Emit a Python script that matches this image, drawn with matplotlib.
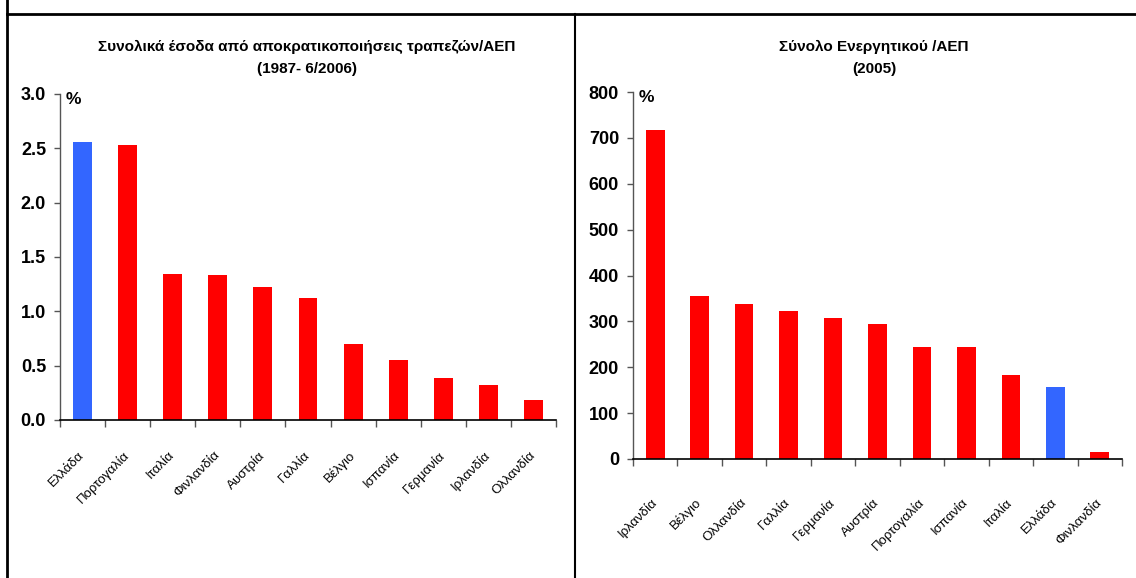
import matplotlib
matplotlib.use("Agg")
import matplotlib.pyplot as plt
from matplotlib.lines import Line2D
import numpy as np

plt.rcParams['font.family'] = ['Liberation Sans', 'DejaVu Sans']

# left chart: bank privatisation proceeds / GDP (1987 - 6/2006)
left_countries = ["Ελλάδα", "Πορτογαλία", "Ιταλία", "Φινλανδία", "Αυστρία", "Γαλλία",
                  "Βέλγιο", "Ισπανία", "Γερμανία", "Ιρλανδία", "Ολλανδία"]
left_values = [2.56, 2.53, 1.34, 1.33, 1.22, 1.12, 0.70, 0.55, 0.39, 0.32, 0.18]

# right chart: total assets / GDP (2005)
right_countries = ["Ιρλανδία", "Βέλγιο", "Ολλανδία", "Γαλλία", "Γερμανία", "Αυστρία",
                   "Πορτογαλία", "Ισπανία", "Ιταλία", "Ελλάδα", "Φινλανδία"]
right_values = [718, 355, 337, 322, 307, 294, 245, 244, 184, 158, 15]

RED = "#FF0000"
BLUE = "#3366FF"


def draw_bars(ax, names, values, ymax, ystep, fmt, label_pad):
    x = np.arange(len(names))
    colors = [BLUE if n == "Ελλάδα" else RED for n in names]
    ax.bar(x, values, width=0.42, color=colors, edgecolor="none")
    ax.set_xlim(-0.5, len(names) - 0.5)
    ax.set_ylim(0, ymax)

    ticks = np.arange(0, ymax + ystep / 2, ystep)
    ax.set_yticks(ticks)
    ax.set_yticklabels([fmt.format(v) for v in ticks], fontsize=13, fontweight="bold")
    ax.tick_params(axis="y", length=4, width=1, color="#555555", pad=6)

    # ticks between categories, labels at centres
    ax.set_xticks(np.arange(-0.5, len(names), 1.0))
    ax.set_xticklabels([])
    ax.set_xticks(x, minor=True)
    ax.set_xticklabels(names, minor=True, rotation=45, ha="right", va="center",
                       rotation_mode="anchor", fontsize=9.5)
    ax.tick_params(axis="x", which="major", length=5, width=1, color="#555555")
    ax.tick_params(axis="x", which="minor", length=0, pad=label_pad)

    for s in ["top", "right"]:
        ax.spines[s].set_visible(False)
    ax.spines["left"].set_color("#555555")
    ax.spines["left"].set_linewidth(1)
    ax.spines["bottom"].set_color("black")
    ax.spines["bottom"].set_linewidth(1.2)

    ax.text(0.012, 1.005, "%", transform=ax.transAxes, ha="left", va="top",
            fontsize=12.5, fontweight="bold")


fig = plt.figure(figsize=(11.36, 5.78), dpi=100)

ax1 = fig.add_axes([0.0528, 0.2734, 0.4366, 0.564])
draw_bars(ax1, left_countries, left_values, 3.0, 0.5, "{:.1f}", 24)

ax2 = fig.add_axes([0.5572, 0.2059, 0.4305, 0.6349])
draw_bars(ax2, right_countries, right_values, 800, 100, "{:.0f}", 30)

fig.text(307 / 1136, 1 - 58 / 578, "Συνολικά έσοδα από αποκρατικοποιήσεις τραπεζών/ΑΕΠ\n(1987- 6/2006)",
         ha="center", va="center", fontsize=11, fontweight="bold", linespacing=1.75)
fig.text(874 / 1136, 1 - 58 / 578, "Σύνολο Ενεργητικού /ΑΕΠ\n(2005)",
         ha="center", va="center", fontsize=11, fontweight="bold", linespacing=1.75)

# page frame lines
fig.add_artist(Line2D([7 / 1136, 1.0], [1 - 14 / 578, 1 - 14 / 578], color="black", lw=2))
fig.add_artist(Line2D([7 / 1136, 7 / 1136], [0, 1.0], color="black", lw=2))
fig.add_artist(Line2D([575 / 1136, 575 / 1136], [0, 1 - 14 / 578], color="black", lw=1.5))

fig.savefig("out.png", dpi=100)
